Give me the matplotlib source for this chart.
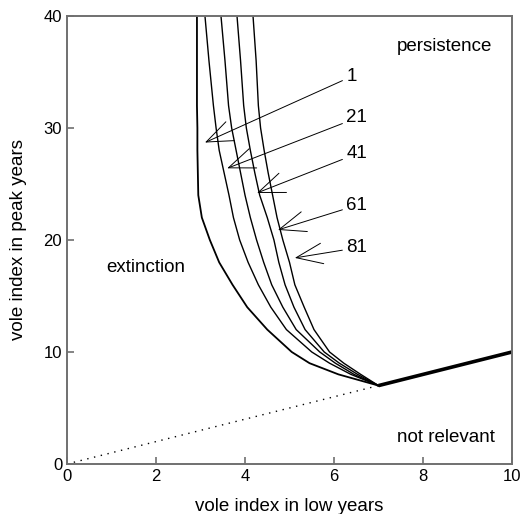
import matplotlib.pyplot as plt

plt.rcParams['font.family'] = ['Liberation Sans', 'DejaVu Sans']

# boundary curves, x read at common y levels
peak_y = [40, 36, 32, 30, 28, 26, 24, 22, 20, 18, 16, 14, 12, 10, 9, 8, 7]
low_1 = [2.92, 2.92, 2.92, 2.93, 2.93, 2.94, 2.95, 3.03, 3.21, 3.42, 3.72, 4.05, 4.50, 5.05, 5.45, 6.10, 7.0]
low_21 = [3.10, 3.19, 3.29, 3.35, 3.42, 3.53, 3.64, 3.74, 3.88, 4.07, 4.30, 4.58, 4.93, 5.50, 5.90, 6.38, 7.0]
low_41 = [3.46, 3.55, 3.63, 3.70, 3.80, 3.90, 4.00, 4.12, 4.26, 4.42, 4.60, 4.85, 5.15, 5.68, 6.03, 6.45, 7.0]
low_61 = [3.82, 3.90, 3.97, 4.03, 4.12, 4.22, 4.33, 4.50, 4.65, 4.76, 4.90, 5.10, 5.35, 5.78, 6.12, 6.53, 7.0]
low_81 = [4.18, 4.25, 4.30, 4.35, 4.43, 4.52, 4.62, 4.72, 4.85, 5.00, 5.12, 5.33, 5.55, 5.90, 6.22, 6.60, 7.0]
curves = [low_1, low_21, low_41, low_61, low_81]
curve_labels = ['1', '21', '41', '61', '81']

# diagonal peak = low
diag_dotted = [0, 7]
diag_solid = [7, 10]

# where each label arrow points and where its label sits
arrow_tips = [(3.10, 28.7), (3.60, 26.4), (4.27, 24.2), (4.74, 20.9), (5.12, 18.4)]
label_pos = [(6.28, 34.6), (6.28, 30.9), (6.28, 27.7), (6.28, 23.1), (6.28, 19.3)]

fig = plt.figure(figsize=(5.26, 5.14), dpi=100)
ax = fig.add_axes([0.1274, 0.0973, 0.8460, 0.8716])

ax.plot(diag_dotted, diag_dotted, color='k', linestyle=(0, (1, 4)), linewidth=1.0)
ax.plot(diag_solid, diag_solid, color='k', linewidth=2.6, solid_capstyle='butt')
for i, xs in enumerate(curves):
    ax.plot(xs, peak_y, color='k', linewidth=1.3 if i == 0 else 1.0)

for lab, tip, pos in zip(curve_labels, arrow_tips, label_pos):
    ax.annotate(lab, xy=tip, xytext=pos, fontsize=13.5, ha='left', va='center',
                arrowprops=dict(arrowstyle='->,head_length=1.4,head_width=0.55',
                                color='k', linewidth=0.7, shrinkA=1, shrinkB=0))

ax.text(8.49, 37.3, 'persistence', fontsize=13.5, ha='center', va='center')
ax.text(1.78, 17.5, 'extinction', fontsize=13.5, ha='center', va='center')
ax.text(8.52, 2.4, 'not relevant', fontsize=13.5, ha='center', va='center')

ax.set_xlim(0, 10)
ax.set_ylim(0, 40)
ax.set_xticks([0, 2, 4, 6, 8, 10])
ax.set_yticks([0, 10, 20, 30, 40])
ax.tick_params(direction='in', length=5, width=1.2, color='#707070', labelsize=12)
for sp in ax.spines.values():
    sp.set_color('#707070')
    sp.set_linewidth(1.4)

ax.set_xlabel('vole index in low years', fontsize=13.5, labelpad=10)
ax.set_ylabel('vole index in peak years', fontsize=13.5, labelpad=12)

fig.savefig('out.png', dpi=100)
